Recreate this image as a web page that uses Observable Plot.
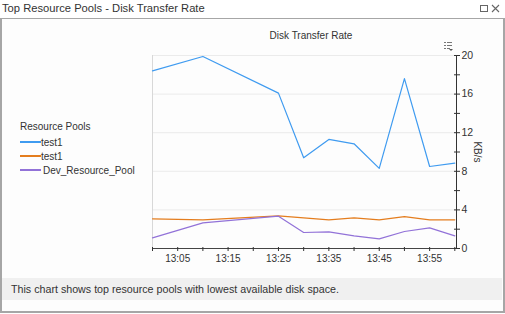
<!DOCTYPE html>
<html>
<head>
<meta charset="utf-8">
<script src="https://cdn.jsdelivr.net/npm/d3@7"></script>
<script src="https://cdn.jsdelivr.net/npm/@observablehq/plot@0.6"></script>
<style>
  html, body { margin: 0; padding: 0; background: #fff; }
  #page { position: relative; width: 505px; height: 314px; overflow: hidden; background: #fff;
          font-family: "Liberation Sans", Arial, sans-serif; color: #333; }
  #titlebar { position: absolute; left: 0; top: 0; width: 505px; height: 18px; background: #fff; }
  #titlebar .t { position: absolute; left: 2px; top: 2px; font-size: 11.2px; color: #333; white-space: nowrap; }
  #panel { position: absolute; left: 0; top: 18px; width: 501px; height: 292px; background: #fdfdfd;
           border-left: 2px solid #a6a6a6; border-right: 2px solid #a6a6a6; border-bottom: 2px solid #a6a6a6;
           border-top: 1px solid #a6a6a6; }
  #ctitle { position: absolute; left: 0; width: 622px; top: 30px; text-align: center; font-size: 10px; color: #333; }
  #legend { position: absolute; left: 20px; top: 121px; font-size: 10px; color: #333; }
  #legend .hd { margin-bottom: 3px; }
  #legend .row { height: 14px; display: flex; align-items: center; }
  #legend .sw { width: 21px; height: 1.3px; margin-right: 0px; }
  #footer { position: absolute; left: 2px; top: 278px; width: 500px; height: 22px; background: #f0f0f0; }
  #footer span { position: absolute; left: 9px; top: 5px; font-size: 10.7px; color: #333; white-space: nowrap; }
  #chart { position: absolute; left: 140px; top: 45px; }
</style>
</head>
<body>
<div id="page">
  <div id="titlebar">
    <span class="t">Top Resource Pools - Disk Transfer Rate</span>
    <svg style="position:absolute;left:478px;top:3px" width="26" height="12">
      <rect x="2.5" y="2.5" width="7" height="6" fill="none" stroke="#666" stroke-width="1"/>
      <path d="M14,2 L21,9 M21,2 L14,9" stroke="#666" stroke-width="1.1"/>
    </svg>
  </div>
  <div id="panel"></div>
  <div id="ctitle">Disk Transfer Rate</div>
  <svg style="position:absolute;left:443px;top:41px" width="12" height="10">
    <path d="M1,1.5h2M4,1.5h5M1,4.5h2M4,4.5h5M1,7.5h2M4,7.5h3" stroke="#777" stroke-width="1"/>
    <path d="M6,8 L10,8 L8,10 Z" fill="#555"/>
  </svg>
  <div id="legend"></div>
  <div id="footer"><span>This chart shows top resource pools with lowest available disk space.</span></div>
  <div id="chart"></div>
</div>
<script>
// ---- data ----
const times = ["13:00","13:10","13:25","13:30","13:35","13:40","13:45","13:50","13:55","14:00"];
const seriesNames = ["test1", "test1", "Dev_Resource_Pool"];
const seriesColors = ["#3f9bf0", "#e47d1e", "#9272d8"];
const test1A = [18.4, 19.9, 16.1, 9.4, 11.3, 10.85, 8.3, 17.6, 8.5, 8.85];
const test1B = [3.08, 2.97, 3.39, 3.18, 2.97, 3.18, 2.97, 3.3, 2.97, 2.97];
const devPool = [1.1, 2.66, 3.35, 1.66, 1.73, 1.31, 1.0, 1.76, 2.14, 1.31];
const yTicks = [0, 4, 8, 12, 16, 20];
const yMinorTicks = [2, 6, 10, 14, 18];
const xTickLabels = ["13:05", "13:15", "13:25", "13:35", "13:45", "13:55"];
const yLabel = "KB/s";
const legendTitle = "Resource Pools";

// ---- build ----
const toDate = (s, sec = 0) => { const [h, m] = s.split(":").map(Number); return new Date(Date.UTC(2020, 0, 1, h, m, sec)); };
const fmt = d3.utcFormat("%H:%M");
const seriesValues = [test1A, test1B, devPool];
const keys = seriesNames.map((n, i) => "s" + i);
const rows = [];
seriesValues.forEach((vals, i) => vals.forEach((v, j) => rows.push({ key: keys[i], time: toDate(times[j]), value: v })));

const x0 = toDate("13:00"), x1 = toDate("14:00", 20);
const xTicks = d3.utcMinute.every(5).range(x0, toDate("14:00", 1));

const chart = Plot.plot({
  width: 360, height: 225,
  marginLeft: 12, marginRight: 44, marginTop: 10, marginBottom: 22,
  style: { fontFamily: "Liberation Sans, Arial, sans-serif", fontSize: "9.5px", color: "#333", background: "transparent", overflow: "visible" },
  x: { type: "utc", domain: [x0, x1] },
  y: { domain: [0, 20] },
  color: { domain: keys, range: seriesColors },
  marks: [
    Plot.ruleY(yTicks.slice(1), { stroke: "#ebebeb", strokeWidth: 1 }),
    Plot.ruleX([x0], { stroke: "#d8d8d8" }),
    Plot.line(rows, { x: "time", y: "value", z: "key", stroke: "key", strokeWidth: 1.2 }),
    Plot.ruleY([0], { stroke: "#444" }),
    Plot.ruleX([x1], { stroke: "#333" }),
    Plot.axisY({ anchor: "right", ticks: yTicks, tickSize: 6, dx: -3, tickPadding: 2, label: null, stroke: "#333", fill: "#333", fontSize: 10.5 }),
    Plot.axisY({ anchor: "right", ticks: yMinorTicks, tickSize: 6, dx: -3, tickFormat: () => "", label: null, stroke: "#333" }),
    Plot.axisX({ ticks: xTicks, tickSize: 4, dy: -1, tickPadding: 3, label: null, stroke: "#333", fill: "#333", fontSize: 10,
                 tickFormat: d => xTickLabels.includes(fmt(d)) ? fmt(d) : "" }),
    Plot.text([yLabel], { frameAnchor: "right", textAnchor: "middle", rotate: 90, dx: 21, fill: "#333", fontSize: 10 })
  ]
});
document.getElementById("chart").appendChild(chart);

// legend
const lg = document.getElementById("legend");
const hd = document.createElement("div"); hd.className = "hd"; hd.textContent = legendTitle; lg.appendChild(hd);
seriesNames.forEach((n, i) => {
  const r = document.createElement("div"); r.className = "row";
  const sw = document.createElement("span"); sw.className = "sw"; sw.style.background = seriesColors[i];
  const tx = document.createElement("span"); tx.textContent = (i === 2 ? " " : "") + n;
  if (i === 2) tx.style.marginLeft = "2px";
  r.appendChild(sw); r.appendChild(tx); lg.appendChild(r);
});
</script>
</body>
</html>
